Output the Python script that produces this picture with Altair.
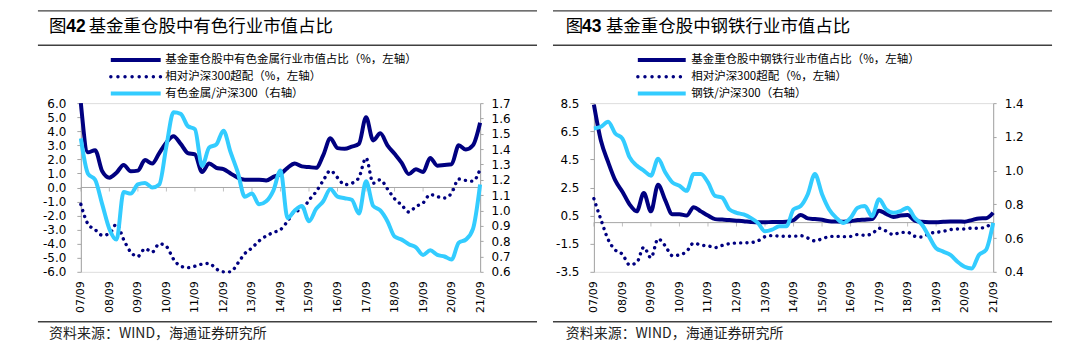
import altair as alt
import pandas as pd

# quarter index: 0 = 2007/09 ... 56 = 2021/09
quarter = list(range(57))
year_ticks = list(range(0, 57, 4))

# ---------- Fig 42: non-ferrous ----------
nf_share = [6.0, 2.5, 2.65, 1.15,
            0.7, 1.05, 1.6, 1.15,
            1.2, 1.95, 1.7, 2.45,
            3.2, 3.65, 3.1, 2.45,
            2.35, 1.1, 1.7, 1.4,
            1.3, 1.0, 0.7, 0.55,
            0.55, 0.55, 0.5, 0.75,
            0.95, 1.4, 1.7, 1.5,
            1.45, 1.4, 2.3, 3.5,
            2.8, 2.75, 2.9, 3.1,
            5.0, 3.35, 3.85, 3.0,
            2.4, 1.75, 0.95, 1.3,
            1.1, 2.1, 1.55, 1.6,
            1.65, 3.0, 2.7, 3.0,
            4.6]
nf_over = [-1.2, -2.6, -3.0, -3.4,
           -3.3, -2.6, -3.7, -4.6,
           -4.9, -4.35, -4.6, -4.0,
           -4.2, -5.1, -5.6, -5.7,
           -5.6, -5.45, -5.4, -5.8,
           -6.0, -6.0, -5.4, -4.7,
           -4.3, -3.8, -3.45, -3.2,
           -3.0, -2.4, -1.7, -1.6,
           -0.9, -0.3, 0.5, 1.2,
           0.7, 0.2, 0.3, 0.7,
           2.1, 0.3, 0.55, -0.1,
           -0.8, -1.25, -1.75, -1.35,
           -1.1, -0.5, -0.65, -0.75,
           -0.4, 0.6, 0.5, 0.45,
           1.3]
nf_ratio = [1.47, 1.24, 1.20, 1.04,
            0.88, 0.81, 1.12, 1.11,
            1.17, 1.18, 1.15, 1.17,
            1.42, 1.64, 1.63, 1.55,
            1.53, 1.29, 1.41, 1.43,
            1.52, 1.38, 1.25, 1.09,
            1.11, 1.04, 1.06, 1.13,
            1.26, 0.95, 1.00, 1.03,
            0.93, 1.01, 1.06, 1.14,
            1.09, 1.08, 1.07, 0.98,
            1.19, 1.03, 1.00, 0.93,
            0.83, 0.81, 0.78, 0.76,
            0.71, 0.74, 0.71, 0.70,
            0.68, 0.79, 0.81, 0.88,
            1.17]

# ---------- Fig 43: steel ----------
st_share = [8.4, 5.8, 4.3, 3.0,
            2.2, 1.3, 0.8, 2.1,
            0.8, 2.7, 1.6, 0.6,
            0.6, 0.5, 1.1, 0.8,
            0.5, 0.25, 0.22, 0.18,
            0.14, 0.1, 0.05, 0.02,
            0.02, 0.05, 0.05, 0.07,
            0.17, 0.55, 0.3, 0.25,
            0.2, 0.1, 0.08, 0.07,
            0.1, 0.18, 0.21, 0.25,
            0.85, 0.62, 0.4, 0.5,
            0.54, 0.15, 0.06, 0.03,
            0.03, 0.06, 0.08, 0.08,
            0.07, 0.18, 0.3, 0.31,
            0.7]
st_over = [1.7, 0.2, -1.2, -1.95,
           -2.25, -3.0, -2.85, -1.75,
           -2.5, -1.15, -1.65, -2.35,
           -2.3, -2.05, -1.45, -1.6,
           -1.65, -1.78, -1.62, -1.5,
           -1.45, -1.44, -1.42, -1.3,
           -1.0, -0.92, -0.96, -0.97,
           -0.97, -0.93, -1.1, -1.3,
           -1.15, -1.0, -0.97, -1.0,
           -0.98, -0.85, -0.9, -0.8,
           -0.4, -0.6, -0.85, -0.7,
           -0.69, -0.97, -1.02, -0.78,
           -0.69, -0.62, -0.5, -0.45,
           -0.45, -0.39, -0.4, -0.3,
           0.0]
st_ratio = [1.25, 1.26, 1.29, 1.22,
            1.19, 1.08, 1.03, 1.00,
            0.97, 1.07, 0.99, 0.93,
            0.91, 0.88, 0.98, 0.98,
            0.93, 0.85, 0.84, 0.77,
            0.75, 0.74, 0.72, 0.69,
            0.64, 0.65, 0.67, 0.67,
            0.77, 0.79, 0.86, 0.98,
            0.86, 0.77, 0.72, 0.69,
            0.72, 0.78, 0.79, 0.73,
            0.83, 0.77, 0.75, 0.76,
            0.78, 0.72, 0.68, 0.61,
            0.54, 0.52, 0.50, 0.46,
            0.43, 0.42, 0.50, 0.53,
            0.69]

nf_left_ticks = [-6, -5, -4, -3, -2, -1, 0, 1, 2, 3, 4, 5, 6]
nf_right_ticks = [0.6, 0.7, 0.8, 0.9, 1.0, 1.1, 1.2, 1.3, 1.4, 1.5, 1.6, 1.7]
st_left_ticks = [-3.5, -1.5, 0.5, 2.5, 4.5, 6.5, 8.5]
st_right_ticks = [0.4, 0.6, 0.8, 1.0, 1.2, 1.4]

nf_legend = ["基金重仓股中有色金属行业市值占比（%，左轴）", "相对沪深300超配（%，左轴）", "有色金属/沪深300（右轴）"]
st_legend = ["基金重仓股中钢铁行业市值占比（%，左轴）", "相对沪深300超配（%，左轴）", "钢铁/沪深300（右轴）"]
source_text = "资料来源：WIND，海通证券研究所"

NAVY = "#000080"
CYAN = "#33CCFF"
GRAY = "#A6A6A6"
RULE = "#404040"
LATIN = "DejaVu Sans"
CJK = "Noto Sans CJK SC"
W = 400
H = 169
one = pd.DataFrame({"a": [0]})

LABEL_EXPR = "replace(format(datum.value, '.1f'), '\u2212', '-')"


def panel(num, title_rest, legend, share, over, ratio, left_dom, left_ticks,
          right_dom, right_ticks, lay, bound_rect=False):
    df = pd.DataFrame({"q": quarter, "share": share, "over": over, "ratio": ratio})
    x_axis = alt.Axis(values=year_ticks,
                      labelExpr="(datum.value/4 + 7 < 10 ? '0' : '') + (datum.value/4 + 7) + '/09'",
                      labelAngle=270, domain=False, ticks=False, grid=False, title=None,
                      labelFont=LATIN, labelFontSize=11, labelColor="black",
                      labelPadding=9, labelOverlap=False, labelFlush=False)
    x = alt.X("q:Q", scale=alt.Scale(domain=[0, 56], nice=False, zero=False), axis=x_axis)
    yl_scale = alt.Scale(domain=left_dom, nice=False, zero=False)
    yl_axis = alt.Axis(orient="left", values=left_ticks, labelExpr=LABEL_EXPR, title=None,
                       grid=False, domainColor=GRAY, tickColor=GRAY, tickSize=4,
                       labelFont=LATIN, labelFontSize=12, labelColor="black",
                       labelPadding=11, labelOverlap=False, labelFlush=False)
    yr_scale = alt.Scale(domain=right_dom, nice=False, zero=False)
    yr_axis = alt.Axis(orient="right", values=right_ticks, labelExpr=LABEL_EXPR, title=None,
                       grid=False, domainColor=GRAY, tickColor=GRAY, tickSize=3,
                       labelFont=LATIN, labelFontSize=12, labelColor="black",
                       labelPadding=8, labelOverlap=False, labelFlush=False)

    base = alt.Chart(df)
    zero_rule = alt.Chart(pd.DataFrame({"z": [0]})).mark_rule(color=GRAY, strokeWidth=1).encode(
        y=alt.Y("z:Q", scale=yl_scale, axis=yl_axis))
    zero_ticks = alt.Chart(pd.DataFrame({"q": year_ticks, "z": [0] * len(year_ticks)})).mark_tick(
        orient="vertical", size=4, thickness=1, color=GRAY, yOffset=2).encode(
        x=x, y=alt.Y("z:Q", scale=yl_scale, axis=yl_axis))
    share_line = base.mark_line(color=NAVY, strokeWidth=4, interpolate="monotone").encode(
        x=x, y=alt.Y("share:Q", scale=yl_scale, axis=yl_axis))
    over_line = base.mark_line(color=NAVY, strokeWidth=3.4, strokeDash=[0.1, 6.2], strokeCap="round",
                               interpolate="monotone").encode(
        x=x, y=alt.Y("over:Q", scale=yl_scale, axis=yl_axis))
    left_group = alt.layer(zero_rule, zero_ticks, share_line, over_line)
    right_line = base.mark_line(color=CYAN, strokeWidth=4, interpolate="monotone").encode(
        x=x, y=alt.Y("ratio:Q", scale=yr_scale, axis=yr_axis))

    dec = alt.Chart(one)
    decor = []
    if bound_rect:
        decor.append(dec.mark_rect(opacity=0).encode(
            x=alt.value(-80), x2=alt.value(1000), y=alt.value(-102), y2=alt.value(249)))
    for yy in lay["rules_y"]:
        decor.append(dec.mark_rule(color=RULE, strokeWidth=1.4).encode(
            x=alt.value(lay["rule_x"][0]), x2=alt.value(lay["rule_x"][1]), y=alt.value(yy)))
    decor.append(dec.mark_text(text="图", align="left", baseline="middle", font=CJK,
                               fontSize=17.5, color="black").encode(
        x=alt.value(lay["title_x"][0]), y=alt.value(-76)))
    decor.append(dec.mark_text(text=num, align="left", baseline="middle", font="Liberation Sans",
                               fontSize=17.5, fontWeight="bold", color="black").encode(
        x=alt.value(lay["title_x"][1]), y=alt.value(-76)))
    decor.append(dec.mark_text(text=title_rest, align="left", baseline="middle", font=CJK,
                               fontSize=17.5, color="black").encode(
        x=alt.value(lay["title_x"][2]), y=alt.value(-76)))
    styles = [dict(color=NAVY, strokeWidth=4),
              dict(color=NAVY, strokeWidth=3.4, strokeDash=[0.1, 7], strokeCap="round"),
              dict(color=CYAN, strokeWidth=4)]
    for i, (lab, yy) in enumerate(zip(legend, [-43.2, -26.4, -9.6])):
        decor.append(dec.mark_rule(**styles[i]).encode(
            x=alt.value(lay["leg_x"][0]), x2=alt.value(lay["leg_x"][1]), y=alt.value(yy)))
        decor.append(dec.mark_text(text=lab, align="left", baseline="middle", font=CJK,
                                   fontSize=11.5, color="black").encode(
            x=alt.value(lay["leg_x"][2]), y=alt.value(yy)))
    decor.append(dec.mark_text(text=source_text, align="left", baseline="middle", font=CJK,
                               fontSize=14, color="#222222").encode(
        x=alt.value(lay["title_x"][0]), y=alt.value(231.5)))

    return alt.layer(left_group, right_line, *decor).resolve_scale(y="independent").properties(
        width=W, height=H)


left_layout = {"rules_y": [-92.4, -58, 219], "rule_x": [-43, 457],
               "title_x": [-31.8, -14.6, 7.8], "leg_x": [30, 80, 84.6]}
right_layout = {"rules_y": [-92.4, -58, 219], "rule_x": [-41, 459],
                "title_x": [-28.2, -12, 12], "leg_x": [44, 92, 97.5]}

p1 = panel("42", "基金重仓股中有色行业市值占比", nf_legend, nf_share, nf_over, nf_ratio,
           [-6, 6], nf_left_ticks, [0.6, 1.7], nf_right_ticks, left_layout, bound_rect=True)
p2 = panel("43", "基金重仓股中钢铁行业市值占比", st_legend, st_share, st_over, st_ratio,
           [-3.5, 8.5], st_left_ticks, [0.4, 1.4], st_right_ticks, right_layout)

chart = alt.hconcat(p1, p2, spacing=114, bounds="flush", padding=0).configure_view(
    stroke=None).configure(background="white")

chart.save("out.html", embed_options={"renderer": "svg", "actions": False})
